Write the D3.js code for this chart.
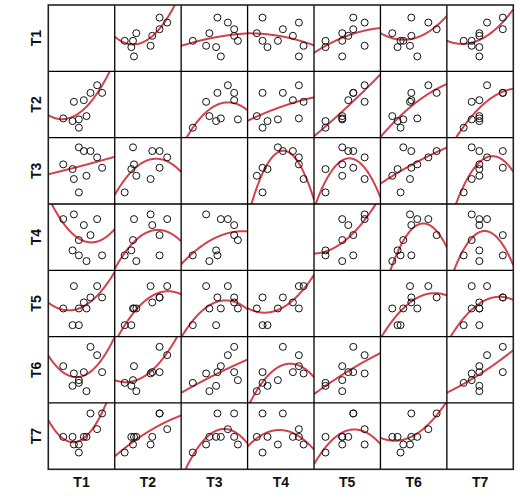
<!DOCTYPE html>
<html><head><meta charset="utf-8">
<script src="https://cdn.jsdelivr.net/npm/d3@7"></script>
<style>body{margin:0;background:#fff}svg{display:block}</style>
</head><body>
<script>
const varNames = ["T1","T2","T3","T4","T5","T6","T7"];
const T1 = [22.5, 36.5, 46, 46, 57.5, 38.5, 53.5, 63.5, 73.5, 81];
const T2 = [29, 25, 27.5, 15, 32.5, 54, 56.5, 67.5, 79, 67.5];
const T3 = [59.7, 52.6, 85.4, 17.5, 42.5, 37.6, 79.8, 79.8, 70.3, 54.6];
const T4 = [77.2, 30, 45.6, 22.5, 13.9, 84.3, 68.2, 53.1, 77.2, 22.5];
const T5 = [42.5, 17.3, 42.5, 17.3, 42.5, 76.2, 51.6, 59.1, 76.2, 59.1];
const T6 = [55.5, 25.8, 34.4, 30.3, 17.8, 44.5, 46.5, 84.6, 72.1, 46.5];
const T7 = [48.9, 48.9, 37.4, 25.3, 48.9, 37.4, 48.9, 84.2, 60.5, 84.2];
const domainMin = 0, domainMax = 100;

(function () {
const series = [T1, T2, T3, T4, T5, T6, T7];
const W = 520, H = 499;
const gL = 48.3, gT = 5, gR = 513.3, gB = 469.3;
const n = varNames.length;
const cw = (gR - gL) / n, ch = (gB - gT) / n;

const svg = d3.select("body").append("svg").attr("width", W).attr("height", H);
const defs = svg.append("defs");

function quadFit(xs, ys) {
  const S = [[0,0,0],[0,0,0],[0,0,0]], R = [0,0,0];
  xs.forEach((x, i) => {
    const p = [1, x, x*x];
    for (let r = 0; r < 3; r++) { R[r] += p[r]*ys[i]; for (let c = 0; c < 3; c++) S[r][c] += p[r]*p[c]; }
  });
  const M = S.map((row, i) => row.concat([R[i]]));
  for (let i = 0; i < 3; i++) {
    let piv = i; for (let k = i+1; k < 3; k++) if (Math.abs(M[k][i]) > Math.abs(M[piv][i])) piv = k;
    const tmp = M[i]; M[i] = M[piv]; M[piv] = tmp;
    for (let k = 0; k < 3; k++) if (k !== i) {
      const f = M[k][i] / M[i][i];
      for (let c = i; c < 4; c++) M[k][c] -= f * M[i][c];
    }
  }
  const coef = M.map((row, i) => row[3] / row[i]);
  return x => coef[0] + coef[1]*x + coef[2]*x*x;
}

for (let r = 0; r < n; r++) {
  for (let c = 0; c < n; c++) {
    if (r === c) continue;
    const x0 = gL + c*cw, y0 = gT + r*ch;
    const xs = series[c], ys = series[r];
    const xScale = d3.scaleLinear().domain([domainMin, domainMax]).range([x0, x0 + cw]);
    const yScale = d3.scaleLinear().domain([domainMin, domainMax]).range([y0 + ch, y0]);
    const id = `clip-${r}-${c}`;
    defs.append("clipPath").attr("id", id).append("rect")
      .attr("x", x0).attr("y", y0).attr("width", cw).attr("height", ch);
    const g = svg.append("g").attr("clip-path", `url(#${id})`);
    const f = quadFit(xs, ys);
    const pts = d3.range(0, 201).map(i => domainMin + (domainMax - domainMin) * i / 200);
    g.append("path")
      .attr("d", d3.line().x(d => xScale(d)).y(d => yScale(f(d)))(pts))
      .attr("fill", "none").attr("stroke", "#d2424c").attr("stroke-width", 2);
    g.selectAll("circle").data(xs.map((x, i) => [x, ys[i]])).join("circle")
      .attr("cx", d => xScale(d[0])).attr("cy", d => yScale(d[1])).attr("r", 3.5)
      .attr("fill", "none").attr("stroke", "#111").attr("stroke-width", 1);
  }
}

for (let i = 1; i < n; i++) {
  svg.append("line").attr("x1", gL + i*cw).attr("x2", gL + i*cw).attr("y1", gT).attr("y2", gB)
    .attr("stroke", "#000").attr("stroke-width", 1.3);
  svg.append("line").attr("y1", gT + i*ch).attr("y2", gT + i*ch).attr("x1", gL).attr("x2", gR)
    .attr("stroke", "#000").attr("stroke-width", 1.3);
}
svg.append("rect").attr("x", gL).attr("y", gT).attr("width", gR - gL).attr("height", gB - gT)
  .attr("fill", "none").attr("stroke", "#222").attr("stroke-width", 1.6);

varNames.forEach((name, i) => {
  svg.append("text").attr("x", gL + (i + 0.5)*cw).attr("y", 487)
    .attr("text-anchor", "middle").attr("font-family", "Liberation Sans, Arial, sans-serif")
    .attr("font-weight", "bold").attr("font-size", 14).attr("fill", "#111").text(name);
  const cy = gT + (i + 0.5)*ch;
  svg.append("text").attr("transform", `translate(40.5,${cy}) rotate(-90)`)
    .attr("text-anchor", "middle").attr("font-family", "Liberation Sans, Arial, sans-serif")
    .attr("font-weight", "bold").attr("font-size", 14).attr("fill", "#111").text(name);
});
})();
</script>
</body></html>
